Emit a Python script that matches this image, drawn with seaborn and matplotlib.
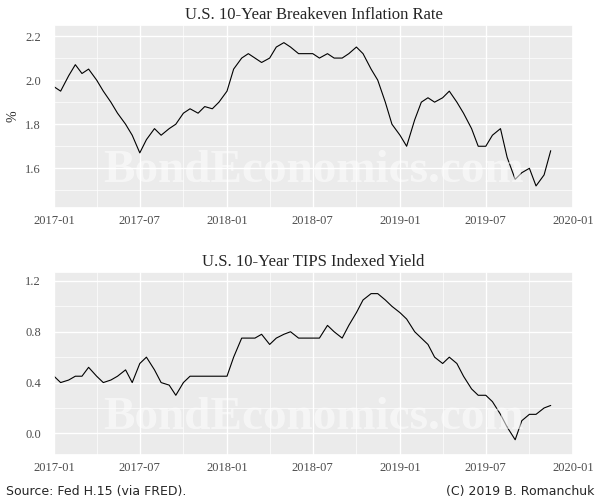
import matplotlib
matplotlib.use('Agg')
import matplotlib.pyplot as plt
import matplotlib.dates as mdates
from matplotlib.ticker import MultipleLocator
import pandas as pd
import seaborn as sns

# half-monthly readings
START = '2017-01-01'
breakeven = [1.97, 1.95, 2.02, 2.07, 2.03, 2.05, 2.00, 1.95, 1.90, 1.85, 1.80, 1.75,
             1.67, 1.73, 1.78, 1.75, 1.78, 1.80, 1.85, 1.87, 1.85, 1.88, 1.87, 1.90,
             1.95, 2.05, 2.10, 2.12, 2.10, 2.08, 2.10, 2.15, 2.17, 2.15, 2.12, 2.12,
             2.12, 2.10, 2.12, 2.10, 2.10, 2.12, 2.15, 2.12, 2.05, 2.00, 1.90, 1.80,
             1.75, 1.70, 1.82, 1.90, 1.92, 1.90, 1.92, 1.95, 1.90, 1.85, 1.78, 1.70,
             1.70, 1.75, 1.78, 1.65, 1.55, 1.58, 1.60, 1.52, 1.57, 1.68]
tips = [0.45, 0.40, 0.42, 0.45, 0.45, 0.52, 0.45, 0.40, 0.42, 0.45, 0.50, 0.40,
        0.55, 0.60, 0.50, 0.40, 0.38, 0.30, 0.40, 0.45, 0.45, 0.45, 0.45, 0.45,
        0.45, 0.60, 0.75, 0.75, 0.75, 0.78, 0.70, 0.75, 0.78, 0.80, 0.75, 0.75,
        0.75, 0.75, 0.85, 0.80, 0.75, 0.85, 0.95, 1.05, 1.10, 1.10, 1.05, 1.00,
        0.95, 0.90, 0.80, 0.75, 0.70, 0.60, 0.55, 0.60, 0.55, 0.45, 0.35, 0.30,
        0.30, 0.25, 0.15, 0.05, -0.05, 0.10, 0.15, 0.15, 0.20, 0.22]
dates = pd.date_range(START, periods=len(breakeven), freq='SMS')
df = pd.DataFrame({'date': dates, 'breakeven': breakeven, 'tips': tips})

sns.set_theme(style='darkgrid', rc={'axes.facecolor': '#EBEBEB', 'grid.color': 'white'})
plt.rcParams['font.family'] = ['Liberation Serif', 'DejaVu Serif']

fig, axes = plt.subplots(2, 1, figsize=(6, 5), dpi=100)
panels = [('breakeven', 'U.S. 10-Year Breakeven Inflation Rate', [1.6, 1.8, 2.0, 2.2], (1.42, 2.25), '%'),
          ('tips', 'U.S. 10-Year TIPS Indexed Yield', [0.0, 0.4, 0.8, 1.2], (-0.17, 1.27), '')]
for ax, (col, title, yt, ylim, ylab) in zip(axes, panels):
    sns.lineplot(data=df, x='date', y=col, ax=ax, color='black', linewidth=0.8)
    ax.set_title(title, fontsize=12, pad=4)
    ax.set_xlabel('')
    ax.set_ylabel(ylab, fontsize=10)
    ax.set_yticks(yt)
    ax.set_yticklabels([f'{v:.1f}' for v in yt], fontsize=9, color='#4D4D4D')
    ax.yaxis.set_minor_locator(MultipleLocator(yt[1] - yt[0]))
    ax.set_yticks([v + (yt[1] - yt[0]) / 2 for v in [yt[0] - (yt[1] - yt[0])] + yt], minor=True)
    ax.set_ylim(*ylim)
    ax.set_xlim(pd.Timestamp('2017-01-01'), pd.Timestamp('2020-01-01'))
    ax.xaxis.set_major_locator(mdates.MonthLocator(bymonth=[1, 7]))
    ax.xaxis.set_minor_locator(mdates.MonthLocator(bymonth=[4, 10]))
    ax.xaxis.set_major_formatter(mdates.DateFormatter('%Y-%m'))
    ax.grid(which='minor', color='white', linewidth=0.5)
    ax.tick_params(axis='x', labelsize=9, colors='#4D4D4D', length=3, pad=2)
    ax.tick_params(which='minor', length=0)
    ax.text(0.5, 0.2, 'BondEconomics.com', transform=ax.transAxes, ha='center', va='center',
            fontsize=34, color='white', alpha=0.55, fontweight='bold')

fig.subplots_adjust(left=0.09, right=0.955, top=0.95, bottom=0.09, hspace=0.35)
fig.text(0.01, 0.01, 'Source: Fed H.15 (via FRED).', fontsize=9, family=['DejaVu Sans'])
fig.text(0.99, 0.01, '(C) 2019 B. Romanchuk', fontsize=9, ha='right', family=['DejaVu Sans'])
fig.savefig('out.png')
